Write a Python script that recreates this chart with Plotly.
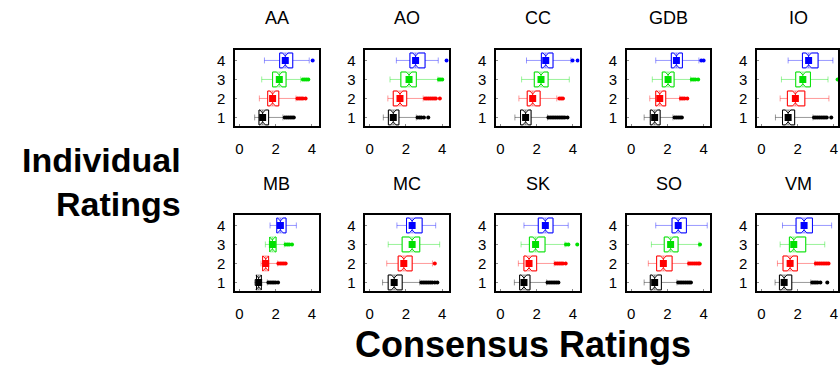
import plotly.graph_objects as go

W, H = 840, 365
FONT = "Liberation Sans, Arial, sans-serif"

panels = ["AA", "AO", "CC", "GDB", "IO", "MB", "MC", "SK", "SO", "VM"]
ratings = [1, 2, 3, 4]
colors = ["#000000", "#ff0000", "#00e000", "#0000ff"]
whisker_colors = ["rgba(0,0,0,0.4)", "rgba(255,0,0,0.4)", "rgba(0,224,0,0.4)", "rgba(0,0,255,0.4)"]

# per panel, per rating (1..4)
low = [
    [0.84, 1.10, 1.23, 1.38],
    [0.75, 1.00, 1.12, 1.47],
    [0.80, 1.02, 1.17, 1.44],
    [0.72, 1.03, 1.17, 1.36],
    [0.77, 1.03, 1.10, 1.47],
    [0.84, 1.19, 1.43, 1.69],
    [0.71, 0.94, 1.02, 1.50],
    [0.77, 0.99, 1.14, 1.30],
    [0.72, 0.95, 1.12, 1.36],
    [0.75, 0.88, 1.03, 1.16],
]
q1 = [
    [1.08, 1.56, 1.83, 2.22],
    [1.03, 1.30, 1.72, 2.22],
    [1.11, 1.48, 1.87, 2.26],
    [1.06, 1.36, 1.72, 2.22],
    [1.16, 1.43, 1.89, 2.26],
    [0.94, 1.28, 1.67, 2.06],
    [1.02, 1.57, 1.79, 2.03],
    [1.06, 1.30, 1.60, 2.09],
    [1.06, 1.41, 1.83, 2.26],
    [0.99, 1.19, 1.54, 1.91],
]
med = [
    [1.28, 1.83, 2.20, 2.53],
    [1.30, 1.67, 2.17, 2.53],
    [1.39, 1.78, 2.24, 2.50],
    [1.30, 1.58, 2.04, 2.50],
    [1.47, 1.87, 2.28, 2.60],
    [1.06, 1.45, 1.82, 2.26],
    [1.35, 1.88, 2.34, 2.34],
    [1.30, 1.58, 1.94, 2.48],
    [1.30, 1.78, 2.18, 2.60],
    [1.25, 1.58, 1.78, 2.35],
]
q3 = [
    [1.61, 2.17, 2.57, 2.94],
    [1.61, 2.04, 2.57, 3.05],
    [1.69, 2.19, 2.63, 2.90],
    [1.60, 1.91, 2.37, 2.83],
    [1.83, 2.39, 2.70, 3.12],
    [1.21, 1.61, 2.02, 2.57],
    [1.79, 2.34, 2.76, 2.89],
    [1.63, 2.00, 2.46, 2.90],
    [1.67, 2.26, 2.59, 3.05],
    [1.67, 1.98, 2.44, 2.81],
]
high = [
    [2.40, 3.12, 3.38, 3.85],
    [2.57, 2.95, 3.76, 3.78],
    [2.60, 3.11, 3.80, 3.89],
    [2.31, 2.68, 3.28, 3.74],
    [2.84, 3.72, 3.67, 3.94],
    [1.54, 2.11, 2.48, 3.14],
    [2.76, 3.46, 3.86, 3.64],
    [2.55, 2.97, 3.56, 3.74],
    [2.53, 3.14, 3.74, 4.20],
    [2.72, 2.95, 3.49, 3.87],
]
outliers = [
    [[2.5, 2.6, 2.7, 2.8, 2.9, 3.0], [3.2, 3.3, 3.4, 3.5, 3.65], [3.5, 3.6, 3.7, 3.8], [4.04]],
    [[2.64, 2.75, 2.85, 2.99, 3.23], [3.05, 3.15, 3.25, 3.35, 3.45, 3.55, 3.65, 3.87], [3.82, 3.9, 4.0], [4.24]],
    [[2.65, 2.75, 2.85, 2.95, 3.05, 3.15, 3.25, 3.35, 3.45, 3.55, 3.7], [3.25, 3.35, 3.45], [], [3.98, 4.26]],
    [[2.4, 2.5, 2.6, 2.7, 2.8], [2.75, 2.85, 2.95, 3.1], [3.35, 3.45, 3.55, 3.7], [3.87, 4.0]],
    [[2.9, 3.0, 3.1, 3.2, 3.3, 3.4, 3.5, 3.6, 3.85], [], [4.2], []],
    [[1.6, 1.7, 1.8, 1.9, 2.0, 2.13], [2.15, 2.25, 2.35, 2.45, 2.55], [2.55, 2.65, 2.75, 2.9], []],
    [[2.85, 2.95, 3.05, 3.15, 3.25, 3.35, 3.45, 3.59, 3.73], [3.59], [], []],
    [[2.6, 2.7, 2.8, 2.9, 3.0, 3.1, 3.2], [3.05, 3.15, 3.25, 3.35, 3.45, 3.6], [3.62, 3.75, 4.24], []],
    [[2.6, 2.7, 2.8, 2.9, 3.0, 3.1, 3.2, 3.3], [3.2, 3.3, 3.4, 3.5, 3.6, 3.7, 3.78], [3.8], []],
    [[2.8, 2.9, 3.0, 3.1, 3.25, 3.63], [3.0, 3.1, 3.2, 3.3, 3.4, 3.5, 3.6, 3.7], [], []],
]
x_ticks = [0, 2, 4]

# ---- layout geometry (pixels) ----
col_left = [235.7, 366.3, 497.3, 628.3, 759.0]
row_top = [50.0, 215.0]
panel_w = 83.6
panel_h = 76.0
px_per_unit = 18.17
zero_off = 4.3

fig = go.Figure()
layout = dict(
    width=W, height=H, margin=dict(l=0, r=0, t=0, b=0),
    paper_bgcolor="white", plot_bgcolor="white",
    showlegend=False, boxmode="overlay",
    font=dict(family=FONT, size=15, color="black"),
)
annotations = []

for i, name in enumerate(panels):
    k = i + 1
    r, c = divmod(i, 5)
    x0 = col_left[c]
    x1 = min(x0 + panel_w, W)
    y0 = row_top[r]
    y1 = y0 + panel_h
    xr = [-zero_off / px_per_unit, (x1 - x0 - zero_off) / px_per_unit]
    xa = "x" if k == 1 else f"x{k}"
    ya = "y" if k == 1 else f"y{k}"
    layout[f"xaxis{k}"] = dict(
        domain=[x0 / W, x1 / W], range=xr, anchor=ya,
        tickvals=x_ticks, ticks="inside", ticklen=2, tickcolor="#888",
        showline=True, mirror=True, linecolor="black", linewidth=1.5,
        showgrid=False, zeroline=False, ticklabelstandoff=8,
        tickfont=dict(size=15, family=FONT),
    )
    layout[f"yaxis{k}"] = dict(
        domain=[1 - y1 / H, 1 - y0 / H], range=[0.55, 4.55], anchor=xa,
        tickvals=ratings, ticks="inside", ticklen=2, tickcolor="#888",
        showline=True, mirror=True, linecolor="black", linewidth=1.5,
        showgrid=False, zeroline=False, ticklabelstandoff=5,
        tickfont=dict(size=15, family=FONT),
    )
    annotations.append(dict(
        text=name, x=(x0 + x0 + panel_w) / 2 / W, y=1 - (18 + 166 * r) / H,
        xref="paper", yref="paper", showarrow=False,
        xanchor="center", yanchor="middle", font=dict(size=18, family=FONT),
    ))
    for j, rt in enumerate(ratings):
        col = colors[j]
        # light whiskers (full box stats, faint colour)
        fig.add_trace(go.Box(
            q1=[q1[i][j]], median=[med[i][j]], q3=[q3[i][j]],
            lowerfence=[low[i][j]], upperfence=[high[i][j]],
            y=[rt], orientation="h", width=0.78, whiskerwidth=0.4,
            line=dict(color=whisker_colors[j], width=1), fillcolor="rgba(255,255,255,0)",
            boxpoints=False, xaxis=xa, yaxis=ya, hoverinfo="skip",
        ))
        # strong notched box outline (no whiskers)
        fig.add_trace(go.Box(
            q1=[q1[i][j]], median=[med[i][j]], q3=[q3[i][j]],
            lowerfence=[q1[i][j]], upperfence=[q3[i][j]],
            y=[rt], orientation="h", notched=True, notchspan=[0.15],
            notchwidth=0.2, width=0.78, whiskerwidth=0,
            line=dict(color=col, width=1), fillcolor="white",
            boxpoints=False, xaxis=xa, yaxis=ya, hoverinfo="skip",
        ))
        fig.add_trace(go.Scatter(
            x=[med[i][j]], y=[rt], mode="markers",
            marker=dict(symbol="square", size=7, color=col),
            xaxis=xa, yaxis=ya, hoverinfo="skip",
        ))
        if outliers[i][j]:
            fig.add_trace(go.Scatter(
                x=outliers[i][j], y=[rt] * len(outliers[i][j]), mode="markers",
                marker=dict(symbol="circle", size=4, color=col),
                xaxis=xa, yaxis=ya, hoverinfo="skip",
            ))

annotations.append(dict(
    text="<b>Individual</b><br><b>Ratings</b>", x=183 / W, y=1 - 182 / H,
    xref="paper", yref="paper", showarrow=False, align="right",
    xanchor="right", yanchor="middle", font=dict(size=34, family=FONT),
))
annotations.append(dict(
    text="<b>Consensus Ratings</b>", x=524 / W, y=1 - 344 / H,
    xref="paper", yref="paper", showarrow=False,
    xanchor="center", yanchor="middle", font=dict(size=36, family=FONT),
))
layout["annotations"] = annotations
fig.update_layout(**layout)
fig.write_html("out.html")
